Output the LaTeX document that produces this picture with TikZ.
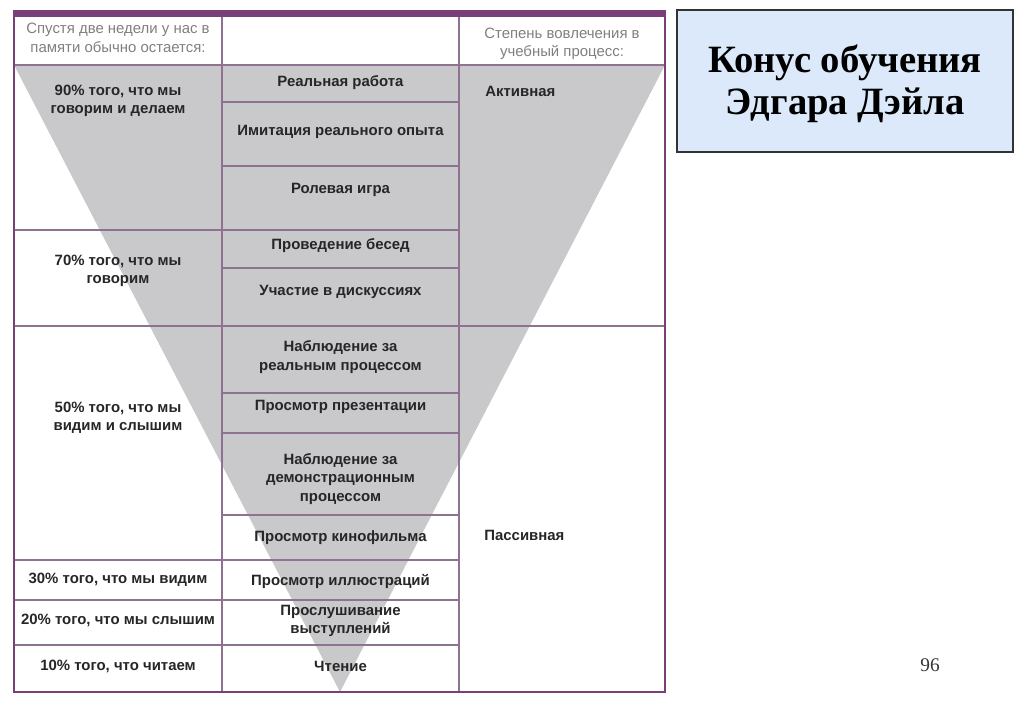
\documentclass[tikz,border=0pt]{standalone}
\usepackage{fontspec}
\setmainfont{Liberation Serif}
\setsansfont{Liberation Sans}
\usetikzlibrary{positioning}
\definecolor{GridPurple}{HTML}{8E7390}
\definecolor{BarPurple}{HTML}{7A3E78}
\definecolor{ConeGray}{HTML}{C9C9CB}
\definecolor{HeadGray}{HTML}{7F7F7F}
\definecolor{TitleBlue}{HTML}{DCE9FA}
\definecolor{TitleEdge}{HTML}{333333}

\begin{document}
\begin{tikzpicture}[x=0.02cm,y=-0.02cm,
  cell/.style={font=\sffamily\bfseries\fontsize{8.5}{10.5}\selectfont, align=center, inner sep=0pt, text=black!85},
  head/.style={font=\sffamily\fontsize{8.5}{10.5}\selectfont, text=HeadGray, align=center, inner sep=0pt},
  grid/.style={GridPurple, line width=0.8pt}]
  \useasboundingbox (0,0) rectangle (1024,708);

  % Cone
  \fill[ConeGray] (14,65) -- (665,65) -- (340,692) -- cycle;

  % Header
  \node[head] (hleft) at (118,38) {Спустя две недели у нас в\\памяти обычно остается:};
  \node[head] (hright) at (562,44) {Степень вовлечения в\\учебный процесс:};

  % Middle column
  \foreach \yb/\yt/\txt [count=\i] in {102/83/{Реальная работа}, 166/132/{Имитация реального опыта},
      230/190/{Ролевая игра}, 268/246/{Проведение бесед}, 326/292/{Участие в дискуссиях},
      393/357/{Наблюдение за\\реальным процессом}, 433/407/{Просмотр презентации},
      515/479/{Наблюдение за\\демонстрационным\\процессом}, 560/538/{Просмотр кинофильма},
      600/581/{Просмотр иллюстраций}, 645/621/{Прослушивание\\выступлений}, 692/666/{Чтение}} {
    \draw[grid] (222,\yb) -- (459,\yb);
    \node[cell] (mid\i) at (340.5,\yt) {\txt};
  }

  % Left column
  \node[cell] (left1) at (118,101) {90\% того, что мы\\говорим и делаем};
  \node[cell] (left2) at (118,271) {70\% того, что мы\\говорим};
  \node[cell] (left3) at (118,418) {50\% того, что мы\\видим и слышим};
  \node[cell] (left4) at (118,580) {30\% того, что мы видим};
  \node[cell] (left5) at (118,620.5) {20\% того, что мы слышим};
  \node[cell] (left6) at (118,666) {10\% того, что читаем};

  % Right column
  \node[cell, anchor=west] (active) at (485,91) {Активная};
  \node[cell, anchor=west] (passive) at (484,535) {Пассивная};

  % Grid
  \draw[grid] (14,65) -- (665,65);
  \draw[grid] (14,326) -- (665,326);
  \foreach \y in {230,560,600,645}
    \draw[grid] (14,\y) -- (459,\y);
  \draw[grid] (222,17) -- (222,692);
  \draw[grid] (459,17) -- (459,692);
  \draw[grid, BarPurple] (14,13) -- (14,692) -- (665,692) -- (665,13);
  \draw[BarPurple, line width=4pt] (13,13.5) -- (666,13.5);

  % Title
  \draw[TitleEdge, fill=TitleBlue, line width=0.9pt] (677,10) rectangle (1013,152);
  \node[font=\bfseries\fontsize{22}{24}\selectfont, align=center] (title) at (845,84) {Конус обучения\\Эдгара Дэйла};

  % Page number
  \node[font=\fontsize{11}{13}\selectfont, text=black!80] (page) at (930,665) {96};
\end{tikzpicture}
\end{document}
